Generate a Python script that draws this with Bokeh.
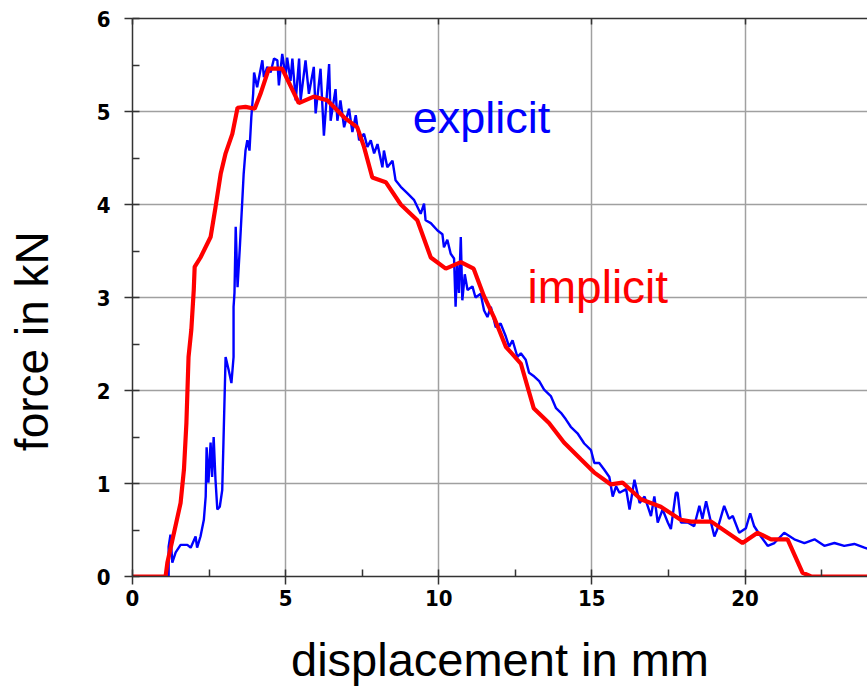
import math
from bokeh.plotting import figure
from bokeh.models import Range1d, LinearAxis, SingleIntervalTicker, Label
from bokeh.embed import file_html
from bokeh.resources import INLINE

# ---- data ----
explicit_x = [0, 1.18, 1.18, 1.24, 1.30, 1.41, 1.57, 1.79, 1.90, 2.06, 2.11, 2.22, 2.33, 2.39, 2.42,
              2.48, 2.55, 2.60, 2.65, 2.71, 2.77, 2.85, 2.93, 2.97, 3.04, 3.14, 3.23, 3.30, 3.30, 3.33,
              3.37, 3.43, 3.50, 3.58, 3.63, 3.69, 3.75, 3.82, 3.88, 3.94, 3.97, 4.07, 4.24, 4.29, 4.40,
              4.51, 4.62, 4.73, 4.78, 4.89, 5.00, 5.05, 5.16, 5.22, 5.33, 5.44, 5.49, 5.65, 5.76, 5.92,
              5.98, 6.14, 6.25, 6.42, 6.47, 6.63, 6.69, 6.79, 6.91, 7.07, 7.18, 7.29, 7.40, 7.56, 7.67,
              7.78, 7.89, 8.00, 8.16, 8.21, 8.32, 8.49, 8.59, 8.76, 8.98, 9.19, 9.41, 9.52, 9.57, 9.74,
              9.96, 10.12, 10.17, 10.28, 10.39, 10.50, 10.55, 10.60, 10.66, 10.72, 10.77, 10.85, 10.94,
              11.10, 11.20, 11.37, 11.48, 11.59, 11.70, 11.86, 12.02, 12.19, 12.30, 12.41, 12.57, 12.68,
              12.84, 12.95, 13.12, 13.28, 13.44, 13.66, 13.83, 13.99, 14.15, 14.31, 14.53, 14.75, 14.97,
              15.08, 15.24, 15.40, 15.57, 15.68, 15.79, 15.90, 16.12, 16.23, 16.39, 16.56, 16.72, 16.93,
              17.04, 17.15, 17.31, 17.48, 17.58, 17.74, 17.80, 17.91, 18.13, 18.34, 18.51, 18.61, 18.73,
              18.89, 19.00, 19.10, 19.32, 19.48, 19.60, 19.81, 20.03, 20.17, 20.30, 20.52, 20.74, 20.96,
              21.28, 21.61, 21.94, 22.27, 22.59, 22.92, 23.24, 23.57, 23.90, 24.00]
explicit_y = [0, 0, 0.32, 0.45, 0.15, 0.26, 0.34, 0.34, 0.31, 0.43, 0.31, 0.43, 0.61, 0.86, 1.39,
              1.01, 1.44, 1.07, 1.50, 1.04, 0.72, 0.75, 0.93, 1.44, 2.36, 2.22, 2.08, 2.36, 2.90, 3.05,
              3.76, 3.11, 3.51, 4.01, 4.33, 4.58, 4.69, 4.58, 4.94, 5.19, 5.42, 5.26, 5.55, 5.37, 5.48,
              5.42, 5.57, 5.55, 5.28, 5.62, 5.37, 5.58, 5.33, 5.57, 5.12, 5.57, 5.12, 5.55, 5.19, 5.48,
              4.98, 5.46, 4.74, 5.51, 4.90, 5.24, 4.90, 5.12, 4.83, 5.03, 4.78, 4.96, 4.69, 4.76, 4.62,
              4.69, 4.55, 4.65, 4.40, 4.58, 4.40, 4.47, 4.26, 4.19, 4.12, 4.05, 3.90, 4.01, 3.83, 3.80,
              3.72, 3.68, 3.54, 3.62, 3.47, 3.42, 2.90, 3.35, 3.05, 3.65, 2.97, 3.25, 3.08,
              3.12, 3.00, 3.04, 2.86, 2.79, 2.90, 2.68, 2.72, 2.58, 2.47, 2.54, 2.36, 2.40,
              2.33, 2.19, 2.15, 2.10, 2.01, 1.94, 1.81, 1.76, 1.69, 1.61, 1.54, 1.43, 1.36,
              1.22, 1.22, 1.15, 1.07, 0.86, 0.97, 0.90, 0.94, 0.72, 1.04, 0.79, 0.86, 0.65,
              0.86, 0.58, 0.72, 0.58, 0.51, 0.90, 0.90, 0.58, 0.58, 0.54, 0.76, 0.62, 0.81,
              0.58, 0.43, 0.51, 0.76, 0.62, 0.65, 0.47, 0.52, 0.68, 0.54, 0.43, 0.33, 0.36,
              0.47, 0.40, 0.36, 0.40, 0.33, 0.36, 0.33, 0.35, 0.31, 0.30]

implicit_x = [0, 1.08, 1.14, 1.57, 1.68, 1.76, 1.83, 1.92, 2.00, 2.03, 2.22, 2.55, 2.71, 2.88, 3.04,
              3.26, 3.43, 3.69, 3.99, 4.18, 4.45, 4.89, 5.43, 5.92, 6.36, 6.90, 7.34, 7.56, 7.83, 8.27,
              8.76, 9.30, 9.74, 10.23, 10.72, 11.14, 11.47, 11.80, 12.19, 12.68, 13.10, 13.60, 14.09,
              14.64, 15.07, 15.62, 16.00, 16.60, 17.25, 17.90, 18.24, 18.90, 19.92, 20.41, 20.85, 21.39,
              21.88, 22.16, 24.00]
implicit_y = [0, 0, 0.15, 0.79, 1.15, 1.65, 2.36, 2.65, 3.08, 3.33, 3.43, 3.65, 3.97, 4.33, 4.55,
              4.76, 5.04, 5.05, 5.03, 5.19, 5.46, 5.46, 5.09, 5.16, 5.12, 4.94, 4.83, 4.62, 4.29, 4.24,
              4.00, 3.83, 3.43, 3.31, 3.38, 3.31, 3.02, 2.79, 2.47, 2.29, 1.81, 1.65, 1.44,
              1.26, 1.12, 0.99, 1.01, 0.83, 0.75, 0.61, 0.59, 0.59, 0.36, 0.47, 0.40, 0.40,
              0.04, 0.0, 0.0]

x_label = "displacement in mm"
y_label = "force in kN"
explicit_name = "explicit"
implicit_name = "implicit"

# ---- figure ----
p = figure(width=867, height=688, output_backend="svg", toolbar_location=None,
           x_range=Range1d(0, 24), y_range=Range1d(0, 6),
           min_border_left=132, min_border_right=0, min_border_top=18, min_border_bottom=111)
p.outline_line_color = None
p.background_fill_color = "white"
p.border_fill_color = "white"

tick_font = "'DejaVu Sans Condensed', 'DejaVu Sans'"
p.xaxis.ticker = SingleIntervalTicker(interval=5, num_minor_ticks=2)
p.yaxis.ticker = SingleIntervalTicker(interval=1, num_minor_ticks=2)
for ax in (p.xaxis[0], p.yaxis[0]):
    ax.axis_line_color = "#333333"
    ax.axis_line_width = 1.5
    ax.major_tick_line_color = "#333333"
    ax.major_tick_line_width = 1.5
    ax.minor_tick_line_color = "#333333"
    ax.minor_tick_line_width = 1.5
    ax.major_tick_out = 8
    ax.major_tick_in = 0
    ax.minor_tick_in = 7
    ax.minor_tick_out = 0
    ax.major_label_text_font = tick_font
    ax.major_label_text_font_style = "bold"
    ax.major_label_text_font_size = "22px"
    ax.major_label_text_color = "black"
p.yaxis.major_label_standoff = 14
p.xaxis.major_label_standoff = 5
p.xaxis.axis_label = x_label
p.xaxis.axis_label_text_font = "Liberation Sans"
p.xaxis.axis_label_text_font_style = "normal"
p.xaxis.axis_label_text_font_size = "47px"
p.xaxis.axis_label_text_color = "black"
p.xaxis.axis_label_standoff = 24

# top frame line with small inward ticks (no labels drawn)
top_axis = LinearAxis(ticker=SingleIntervalTicker(interval=5, num_minor_ticks=0),
                      major_label_text_font_size="6px", major_label_text_color=None,
                      major_label_standoff=0,
                      axis_line_color="#333333", axis_line_width=1.5,
                      major_tick_line_color="#333333", major_tick_line_width=1.5,
                      major_tick_in=6, major_tick_out=0, minor_tick_in=0, minor_tick_out=0)
p.add_layout(top_axis, "above")

p.xgrid.ticker = SingleIntervalTicker(interval=5)
p.ygrid.ticker = SingleIntervalTicker(interval=1)
p.grid.grid_line_color = "#a0a0a0"
p.grid.grid_line_width = 1.5

p.line(explicit_x, explicit_y, line_color="#0000ff", line_width=2.4)
p.line(implicit_x, implicit_y, line_color="#ff0000", line_width=4.2)

# y-axis title placed in the left side panel
p.add_layout(Label(x=-3.27, y=2.53, text=y_label, angle=math.pi / 2,
                   text_font="Liberation Sans", text_font_size="46px", text_color="black",
                   text_align="center", text_baseline="alphabetic"), "left")

p.add_layout(Label(x=9.15, y=4.94, text=explicit_name, text_font="Liberation Sans",
                   text_font_size="45px", text_color="#0000ff",
                   text_align="left", text_baseline="alphabetic"))
p.add_layout(Label(x=12.9, y=3.11, text=implicit_name, text_font="Liberation Sans",
                   text_font_size="46px", text_color="#ff0000",
                   text_align="left", text_baseline="alphabetic"))

open("out.html", "w").write(file_html(p, INLINE))
